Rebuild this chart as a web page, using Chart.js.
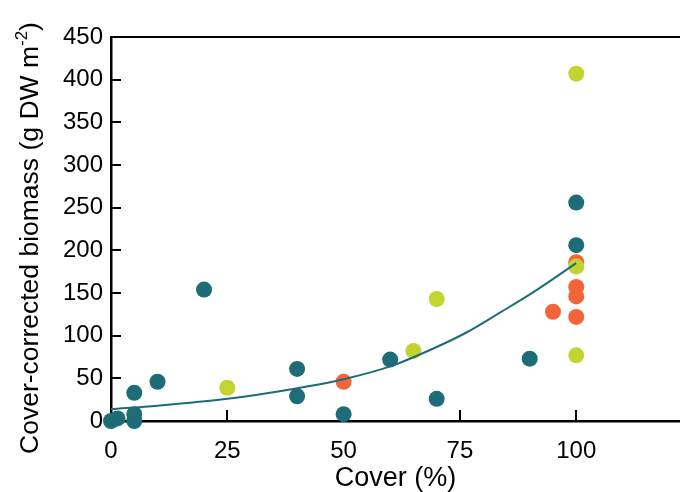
<!DOCTYPE html>
<html>
<head>
<meta charset="utf-8">
<script src="https://cdn.jsdelivr.net/npm/chart.js@4"></script>
<style>
  body { margin: 0; background: #fff; }
  #wrap { width: 680px; height: 492px; }
</style>
</head>
<body>
<div id="wrap"><canvas id="chart" width="680" height="492"></canvas></div>
<script>
// values
const tealX = [0, 1.4, 5, 5, 5, 10, 20, 40, 40, 50, 60, 70, 90, 100, 100];
const tealY = [0, 3, 0, 8, 33, 46, 154, 61, 29, 8, 72, 26, 73, 256, 206];
const limeX = [25, 65, 70, 100, 100, 100];
const limeY = [39, 82, 143, 407, 181, 77];
const orangeX = [50, 95, 100, 100, 100, 100];
const orangeY = [46, 128, 186, 157, 146, 122];
// fitted curve
const fitX = [0, 10, 25, 38.5, 50, 60, 69.3, 76.5, 83.6, 90.8, 100];
const fitY = [14, 18, 26, 37, 49, 64, 85, 104, 127, 151, 185];
const xTicks = [0, 25, 50, 75, 100];

const TEAL = '#1d6c78';
const LIME = '#c3d330';
const ORANGE = '#f2653a';
const FONT = "'Liberation Sans', Arial, sans-serif";

const pts = (xs, ys) => xs.map((x, i) => ({ x: x, y: ys[i] }));

function scatter(label, xs, ys, color) {
  return {
    type: 'scatter',
    label: label,
    data: pts(xs, ys),
    backgroundColor: color,
    borderColor: color,
    borderWidth: 0,
    pointRadius: 8,
    pointHoverRadius: 8,
    clip: false,
  };
}

// inward tick marks (under the dots) + y title with superscript
const extras = {
  id: 'extras',
  beforeDatasetsDraw(chart) {
    const ctx = chart.ctx;
    const area = chart.chartArea;
    const xs = chart.scales.x;
    const ys = chart.scales.y;
    ctx.save();
    ctx.strokeStyle = '#000';
    ctx.lineWidth = 2;
    ys.ticks.forEach(t => {
      if (t.value === 0) return;
      const y = Math.round(ys.getPixelForValue(t.value));
      ctx.beginPath();
      ctx.moveTo(area.left, y);
      ctx.lineTo(area.left + 10, y);
      ctx.stroke();
    });
    xs.ticks.forEach(t => {
      if (t.value === 0) return;
      const x = Math.round(xs.getPixelForValue(t.value));
      ctx.beginPath();
      ctx.moveTo(x, area.bottom);
      ctx.lineTo(x, area.bottom - 11);
      ctx.stroke();
    });
    ctx.restore();
  },
  afterDraw(chart) {
    const ctx = chart.ctx;
    const main = 'Cover-corrected biomass (g DW m';
    const sup = '-2';
    const end = ')';
    ctx.save();
    ctx.fillStyle = '#000';
    ctx.textBaseline = 'alphabetic';
    ctx.textAlign = 'left';
    ctx.font = '26.5px ' + FONT;
    const w1 = ctx.measureText(main).width;
    const w3 = ctx.measureText(end).width;
    ctx.font = '17px ' + FONT;
    const w2 = ctx.measureText(sup).width;
    const total = w1 + w2 + w3;
    ctx.translate(38, 238);
    ctx.rotate(-Math.PI / 2);
    let x0 = -total / 2;
    ctx.font = '26.5px ' + FONT;
    ctx.fillText(main, x0, 0);
    ctx.font = '17px ' + FONT;
    ctx.fillText(sup, x0 + w1, -11);
    ctx.font = '26.5px ' + FONT;
    ctx.fillText(end, x0 + w1 + w2, 0);
    ctx.restore();
  }
};

new Chart(document.getElementById('chart'), {
  data: {
    datasets: [
      {
        type: 'line',
        label: 'fit',
        data: pts(fitX, fitY),
        borderColor: TEAL,
        borderWidth: 2,
        pointRadius: 0,
        fill: false,
        cubicInterpolationMode: 'monotone',
      },
      scatter('lime', limeX, limeY, LIME),
      scatter('orange', orangeX, orangeY, ORANGE),
      scatter('teal', tealX, tealY, TEAL),
    ],
  },
  options: {
    responsive: false,
    animation: false,
    events: [],
    layout: { autoPadding: false, padding: 0 },
    plugins: {
      legend: { display: false },
      tooltip: { enabled: false },
    },
    scales: {
      x: {
        type: 'linear',
        position: 'bottom',
        min: 0,
        max: 122.3,
        afterBuildTicks: s => { s.ticks = xTicks.map(v => ({ value: v })); },
        afterFit: s => { s.height = 71; s.paddingLeft = 0; s.paddingRight = 0; },
        grid: { display: false, drawTicks: false },
        border: { display: true, color: '#000', width: 2.5 },
        ticks: {
          color: '#000',
          font: { family: FONT, size: 24 },
          padding: 16,
          maxRotation: 0,
          autoSkip: false,
        },
        title: {
          display: true,
          text: 'Cover (%)',
          color: '#000',
          font: { family: FONT, size: 27 },
          padding: { top: 0, bottom: -3 },
        },
      },
      x2: {
        type: 'linear',
        position: 'top',
        min: 0,
        max: 1,
        afterFit: s => { s.height = 37; s.paddingLeft = 0; s.paddingRight = 0; },
        grid: { display: false, drawTicks: false },
        border: { display: true, color: '#000', width: 2 },
        ticks: { display: false },
      },
      y: {
        type: 'linear',
        min: 0,
        max: 450,
        afterFit: s => { s.width = 111; },
        grid: { display: false, drawTicks: false },
        border: { display: true, color: '#000', width: 2.5 },
        ticks: {
          stepSize: 50,
          color: '#000',
          font: { family: FONT, size: 24 },
          padding: 8,
        },
      },
    },
  },
  plugins: [extras],
});
</script>
</body>
</html>
